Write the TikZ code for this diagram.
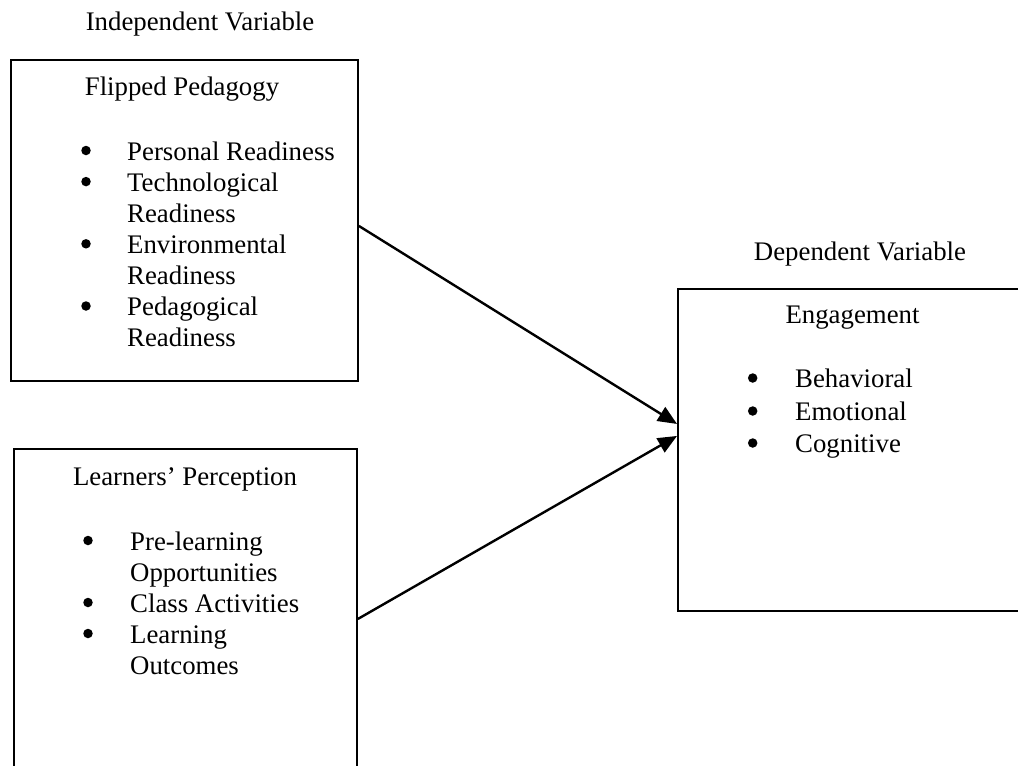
\documentclass[tikz,border=0pt]{standalone}
\usepackage{fontspec}
\setmainfont{Liberation Serif}
\usetikzlibrary{arrows.meta}
\begin{document}
\begin{tikzpicture}[x=1pt,y=-1pt,
  txt/.style={font=\fontsize{26.8}{31}\selectfont, inner sep=0pt, anchor=base west},
  ctxt/.style={font=\fontsize{26.8}{31}\selectfont, inner sep=0pt, anchor=base},
  bul/.style={circle, fill=black, inner sep=0pt, minimum size=9.5pt},
  frame/.style={draw, line width=1.9pt, inner sep=0pt, anchor=north west},
  arr/.style={line width=2.4pt, -{Triangle[length=19pt,width=16pt]}}]
\useasboundingbox (0,0) rectangle (1018,766);
\clip (0,0) rectangle (1018,766);
% boxes
\node[frame, minimum width=347pt, minimum height=321pt] (b1) at (10,59) {};
\node[frame, minimum width=343pt, minimum height=340pt] (b2) at (13,448) {};
\node[frame, minimum width=360pt, minimum height=322pt] (b3) at (677,288) {};
% headings
\node[ctxt] (iv) at (200,30) {Independent Variable};
\node[ctxt] (dv) at (860,260) {Dependent Variable};
% box 1
\node[ctxt] (t1) at (182,95) {Flipped Pedagogy};
\node[bul] (p1) at (86,150.5) {};
\node[txt] (l11) at (127,160) {Personal Readiness};
\node[bul] (p2) at (86,181.6) {};
\node[txt] (l12) at (127,191.1) {Technological};
\node[txt] (l13) at (127,222.2) {Readiness};
\node[bul] (p3) at (86,243.8) {};
\node[txt] (l14) at (127,253.3) {Environmental};
\node[txt] (l15) at (127,284.4) {Readiness};
\node[bul] (p4) at (86,306) {};
\node[txt] (l16) at (127,315.5) {Pedagogical};
\node[txt] (l17) at (127,346.6) {Readiness};
% box 2
\node[ctxt] (t2) at (185,485) {Learners’ Perception};
\node[bul] (q1) at (88,540.5) {};
\node[txt] (l21) at (130,550) {Pre-learning};
\node[txt] (l22) at (130,581) {Opportunities};
\node[bul] (q2) at (88,602.5) {};
\node[txt] (l23) at (130,612) {Class Activities};
\node[bul] (q3) at (88,633.5) {};
\node[txt] (l24) at (130,643) {Learning};
\node[txt] (l25) at (130,674) {Outcomes};
% box 3
\node[ctxt] (t3) at (852.5,323) {Engagement};
\node[bul] (r1) at (752.7,378) {};
\node[txt] (l31) at (795,387) {Behavioral};
\node[bul] (r2) at (752.7,411) {};
\node[txt] (l32) at (795,420) {Emotional};
\node[bul] (r3) at (752.7,443) {};
\node[txt] (l33) at (795,452) {Cognitive};
% arrows
\draw[arr] ([yshift=-5.5pt]b1.east) -- ([yshift=26pt]b3.west);
\draw[arr] ([yshift=0pt]b2.east) -- ([yshift=14pt]b3.west);
\end{tikzpicture}
\end{document}
